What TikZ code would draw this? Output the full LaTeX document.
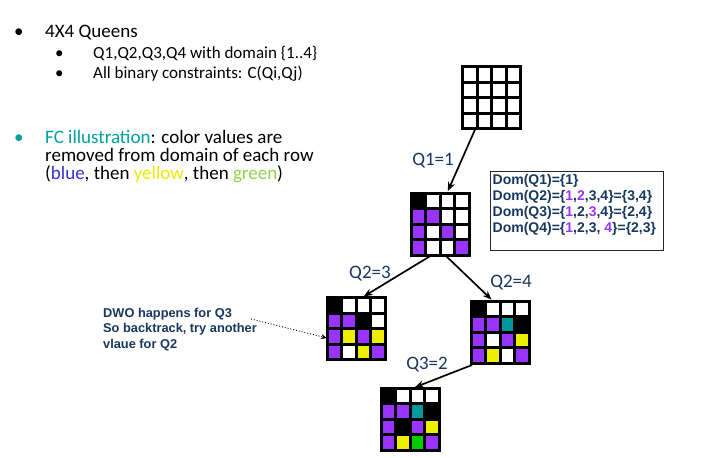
\documentclass[tikz,border=0pt]{standalone}
\usepackage{fontspec}
\setmainfont{Carlito}
\newfontfamily\arialfont{Liberation Sans}
\usetikzlibrary{arrows.meta, positioning, calc}
\definecolor{qnavy}{RGB}{23,55,94}
\definecolor{qpurple}{RGB}{153,51,255}
\definecolor{qyellow}{RGB}{238,238,0}
\definecolor{qteal}{RGB}{0,153,153}
\definecolor{qgreen}{RGB}{0,204,0}
\definecolor{fcteal}{RGB}{0,160,160}
\definecolor{wblue}{RGB}{51,51,204}
\definecolor{wyellow}{RGB}{235,235,0}
\definecolor{wgreen}{RGB}{146,208,80}

\tikzset{
  board/.style={minimum width=58pt, minimum height=62pt, inner sep=0pt, outer sep=0pt},
  cellline/.style={line width=3pt},
  move/.style={-{Stealth[length=9pt, width=7pt]}, line width=1.7pt, shorten >=2pt},
  movelabel/.style={text=qnavy, font=\fontsize{19}{19}\selectfont},
  bigline/.style={anchor=base west, inner sep=0pt, font=\fontsize{19}{19}\selectfont},
  smallline/.style={anchor=base west, inner sep=0pt, font=\fontsize{17}{17}\selectfont},
  note/.style={text=qnavy, align=left, inner sep=0pt, font=\arialfont\bfseries\fontsize{12.8}{15.5}\selectfont}
}

% grid lines over a board
\newcommand\boardlines[1]{%
  \foreach \i in {1,2,3}{
    \draw[cellline] ($(#1.north west)+(\i*14.5,0)$) -- ++(0,62);
    \draw[cellline] ($(#1.north west)+(0,\i*15.5)$) -- ++(58,0);
  }
  \draw[cellline] (#1.north west) rectangle (#1.south east);
}

\begin{document}
\begin{tikzpicture}[x=1pt, y=-1pt]
    \useasboundingbox (0,0) rectangle (702,458);

    % left text
    \node[bigline] (b-top) at (14,37.5) {\textbullet};
    \node[bigline] (l-queens) at (45,37.5) {4X4 Queens};
    \node[smallline] (b-sub1) at (55,58) {\textbullet};
    \node[smallline] (l-domain) at (93,58) {Q1,Q2,Q3,Q4 with domain \{1..4\}};
    \node[smallline] (b-sub2) at (55,78) {\textbullet};
    \node[smallline] (l-binary) at (93,78) {All binary constraints: C(Qi,Qj)};
    \node[bigline, text=fcteal] (b-fc) at (14,143) {\textbullet};
    \node[bigline] (l-fc1) at (45,143) {\textcolor{fcteal}{FC illustration}: color values are};
    \node[bigline] (l-fc2) at (45,161) {removed from domain of each row};
    \node[bigline] (l-fc3) at (45,179) {(\textcolor{wblue}{blue}, then \textcolor{wyellow}{yellow}, then \textcolor{wgreen}{green})};

    % empty board
    \node[board] (b0) at (491.5,97.5) {};
    \boardlines{b0}

    % Q1=1
    \node[board] (b1) at (440,224) {};
    \foreach \c/\r/\k in {0/0/black, 0/1/qpurple, 1/1/qpurple, 0/2/qpurple, 2/2/qpurple, 0/3/qpurple, 3/3/qpurple}
      \fill[\k] ($(b1.north west)+(\c*14.5,\r*15.5)$) rectangle +(14.5,15.5);
    \boardlines{b1}

    % Q2=3
    \node[board] (b2) at (356,328.5) {};
    \foreach \c/\r/\k in {0/0/black, 0/1/qpurple, 1/1/qpurple, 2/1/black, 0/2/qpurple, 1/2/qyellow, 2/2/qpurple, 3/2/qyellow, 0/3/qpurple, 2/3/qyellow, 3/3/qpurple}
      \fill[\k] ($(b2.north west)+(\c*14.5,\r*15.5)$) rectangle +(14.5,15.5);
    \boardlines{b2}

    % Q2=4
    \node[board] (b3) at (500,332) {};
    \foreach \c/\r/\k in {0/0/black, 0/1/qpurple, 1/1/qpurple, 2/1/qteal, 3/1/black, 0/2/qpurple, 2/2/qpurple, 3/2/qyellow, 0/3/qpurple, 1/3/qyellow, 3/3/qpurple}
      \fill[\k] ($(b3.north west)+(\c*14.5,\r*15.5)$) rectangle +(14.5,15.5);
    \boardlines{b3}

    % Q3=2
    \node[board] (b4) at (410,419) {};
    \foreach \c/\r/\k in {0/0/black, 0/1/qpurple, 1/1/qpurple, 2/1/qteal, 3/1/black, 0/2/qpurple, 1/2/black, 2/2/qpurple, 3/2/qyellow, 0/3/qpurple, 1/3/qyellow, 2/3/qgreen, 3/3/qpurple}
      \fill[\k] ($(b4.north west)+(\c*14.5,\r*15.5)$) rectangle +(14.5,15.5);
    \boardlines{b4}

    % search arrows
    \draw[move] ([xshift=-16pt]b0.south) -- ([xshift=7pt]b1.north);
    \draw[move] ([xshift=-8pt]b1.south) -- ([xshift=6pt]b2.north);
    \draw[move] ([xshift=5pt]b1.south) -- ([xshift=-7pt]b3.north);
    \draw[move] ([xshift=-28pt, yshift=-2pt]b3.south) -- ([xshift=3pt]b4.north);
    \node[movelabel] (m1) at (433,161) {Q1=1};
    \node[movelabel] (m2) at (370,274) {Q2=3};
    \node[movelabel] (m3) at (511,283) {Q2=4};
    \node[movelabel] (m4) at (427,365) {Q3=2};

    % domains after Q1=1
    \node[draw=black!85, line width=1pt, minimum width=173pt, minimum height=79pt, inner sep=0pt] (dom) at (576.5,210.5) {};
    \node[note, font=\arialfont\bfseries\fontsize{14}{16}\selectfont, anchor=north west] (domtext) at ([xshift=3pt, yshift=-4pt]dom.north west)
      {Dom(Q1)=\{1\}\\
       Dom(Q2)=\{\textcolor{qpurple}{1},\textcolor{qpurple}{2},3,4\}=\{3,4\}\\
       Dom(Q3)=\{\textcolor{qpurple}{1},2,\textcolor{qpurple}{3},4\}=\{2,4\}\\
       Dom(Q4)=\{\textcolor{qpurple}{1},2,3, \textcolor{qpurple}{4}\}=\{2,3\}};

    % wipe-out note
    \node[note, anchor=west] (dwo) at (103,329.5) {DWO happens for Q3\\So backtrack, try another\\vlaue for Q2};
    \coordinate (dwotail) at (251,319);
    \draw[dotted, line width=0.9pt, -{Stealth[length=6pt, width=5pt]}] (dwotail) -- ([yshift=-9.5pt]b2.west);
\end{tikzpicture}
\end{document}
